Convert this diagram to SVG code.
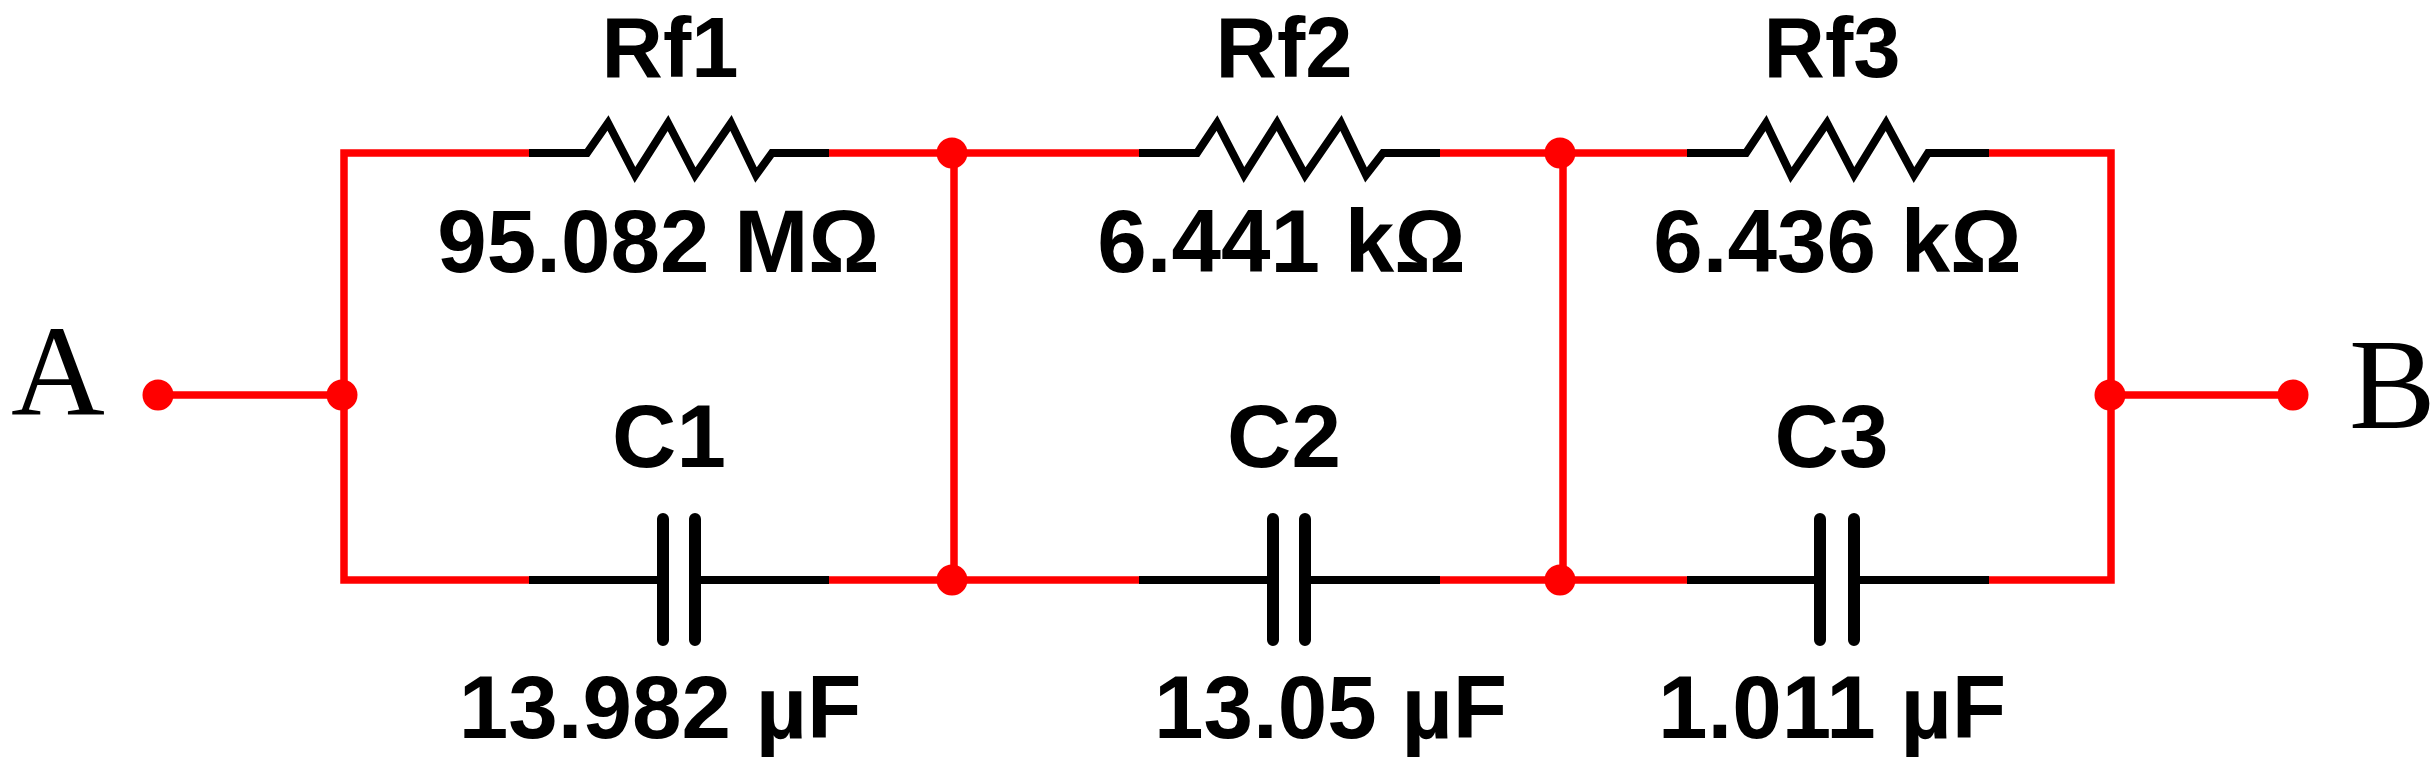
<svg xmlns="http://www.w3.org/2000/svg" width="2436" height="767" viewBox="0 0 2436 767">
<style>
.w{fill:none;stroke:#f00;stroke-width:7.5;stroke-linejoin:miter}
.b{fill:none;stroke:#000;stroke-width:8;stroke-linejoin:miter}
.p{fill:none;stroke:#000;stroke-width:12;stroke-linecap:round}
.d{fill:#f00}
.t{font-family:"Liberation Sans",Arial,sans-serif;font-weight:bold;font-size:89px;fill:#000;text-anchor:middle}
.r{font-size:85px}
.s{font-family:"Liberation Serif","Times New Roman",serif;font-size:130px;fill:#000}
</style>
<rect width="2436" height="767" fill="#fff"/>
<g id="connectors">
<path class="w" d="M158 395H344M529 153H344V580H529"/>
<path class="w" d="M829 153H1139M829 580H1139M954 153V580"/>
<path class="w" d="M1440 153H1687M1440 580H1687M1563 153V580"/>
<path class="w" d="M1989 153H2111V580H1989M2111 395H2293"/>
</g>
<g id="Rf1"><path class="b" d="M529 153H587L608 123L635 175L668 123L695 175L731 123L756 175L772 153H829"/><text class="t r" x="670" y="77">Rf1</text><text class="t" x="658.5" y="272">95.082 MΩ</text></g>
<g id="Rf2"><path class="b" d="M1139 153H1197L1217 123L1244 175L1277 123L1305 175L1341 123L1366 175L1383 153H1440"/><text class="t r" x="1284" y="77">Rf2</text><text class="t" x="1281.500" y="272">6.441 kΩ</text></g>
<g id="Rf3"><path class="b" d="M1687 153H1746L1766 123L1791 175L1827 123L1854 175L1886 123L1914 175L1928 153H1989"/><text class="t r" x="1832" y="77">Rf3</text><text class="t" x="1837.500" y="272">6.436 kΩ</text></g>
<g id="C1"><path class="b" d="M529 580H663M695 580H829"/><path class="p" d="M663 519V640M695 519V640"/><text class="t" x="669" y="467">C1</text><text class="t" x="660" y="738">13.982 µF</text></g>
<g id="C2"><path class="b" d="M1139 580H1273M1305 580H1440"/><path class="p" d="M1273 519V640M1305 519V640"/><text class="t" x="1284" y="467">C2</text><text class="t" x="1330.500" y="738">13.05 µF</text></g>
<g id="C3"><path class="b" d="M1687 580H1820M1854 580H1989"/><path class="p" d="M1820 519V640M1854 519V640"/><text class="t" x="1831.500" y="467">C3</text><text class="t" x="1832" y="738">1.011 µF</text></g>
<g id="A"><ellipse class="d" cx="158" cy="395" rx="15.500" ry="15.500"/><text class="s" x="11" y="415">A</text></g>
<g id="B"><ellipse class="d" cx="2293" cy="395" rx="15.500" ry="15.500"/><text class="s" x="2349" y="428">B</text></g>
<g id="junctions">
<ellipse class="d" cx="342" cy="395" rx="15.500" ry="15.500"/>
<ellipse class="d" cx="952" cy="153" rx="15.500" ry="15.500"/>
<ellipse class="d" cx="952" cy="580" rx="15.500" ry="15.500"/>
<ellipse class="d" cx="1560" cy="153" rx="15.500" ry="15.500"/>
<ellipse class="d" cx="1560" cy="580" rx="15.500" ry="15.500"/>
<ellipse class="d" cx="2110" cy="395" rx="15.500" ry="15.500"/>
</g>
</svg>
